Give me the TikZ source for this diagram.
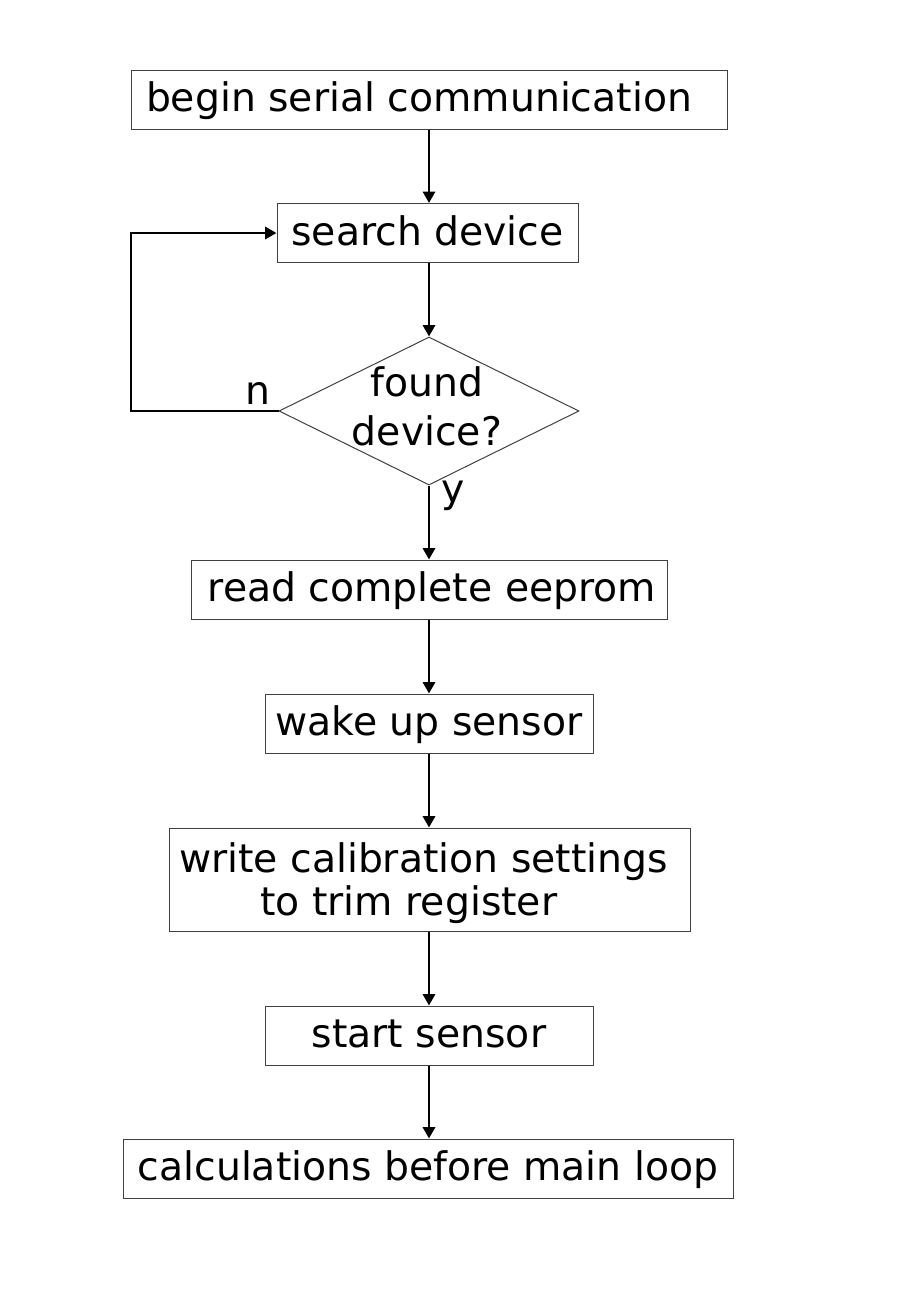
\documentclass[tikz,border=0pt]{standalone}
\usepackage{fontspec}
\setmainfont{DejaVu Sans}
\usetikzlibrary{shapes.geometric,arrows.meta}
\begin{document}
\begin{tikzpicture}[x=0.75pt,y=-0.75pt,
  every node/.style={font=\fontsize{29.5}{36}\selectfont},
  procbox/.style={draw=black!75,line width=0.75pt,inner sep=0pt,minimum height=44.25pt,text height=23.6pt,text depth=5.3pt},
  flow/.style={line width=2.2pt,-{Triangle[length=8.5pt,width=9pt]}},
  lbl/.style={inner sep=0pt}]
\useasboundingbox (0,0) rectangle (912,1300);
\node[procbox,minimum width=447pt] (b1) at (429,99.5) {begin serial communication\hspace*{15pt}};
\node[procbox,minimum width=225.75pt] (b2) at (427.5,233) {search device};
\node[draw=black!75,line width=0.75pt,diamond,aspect=2.03,minimum width=225pt,minimum height=111pt,inner sep=0pt] (dec) at (429,411) {};
\node[lbl,align=center,font=\fontsize{29.5}{37}\selectfont] (dect) at (427,406) {found\\device?};
\node[procbox,minimum width=357pt] (b3) at (429,589.5) {\hspace*{4.5pt}read complete eeprom};
\node[procbox,minimum width=246pt] (b4) at (429,723.5) {wake up sensor};
\node[draw=black!75,line width=0.75pt,inner sep=0pt,minimum width=390.75pt,minimum height=77.25pt,align=center,font=\fontsize{29.5}{32.5}\selectfont] (b5) at (429.5,879.5) {\rule{0pt}{28pt}write calibration settings\hspace*{9pt}\\to trim register\hspace*{31pt}};
\node[procbox,minimum width=246pt] (b6) at (429,1035.5) {start sensor};
\node[procbox,minimum width=457.5pt] (b7) at (428,1168.5) {calculations before main loop};
\coordinate (c1) at (131,411);
\coordinate (c2) at (131,233);
\draw[flow] (b1.south -| dec.north) -- (b2.north -| dec.north);
\draw[flow] (b2.south -| dec.north) -- (dec.north);
\draw[flow] (dec.south) -- (b3.north -| dec.south);
\draw[flow] (b3.south -| dec.south) -- (b4.north -| dec.south);
\draw[flow] (b4.south -| dec.south) -- (b5.north -| dec.south);
\draw[flow] (b5.south -| dec.south) -- (b6.north -| dec.south);
\draw[flow] (b6.south -| dec.south) -- (b7.north -| dec.south);
\draw[flow] (dec.west) -- (c1) -- (c2) -- (b2.west);
\node[lbl] (n) at (258,393) {n};
\node[lbl] (y) at (453,496) {y};
\end{tikzpicture}
\end{document}
